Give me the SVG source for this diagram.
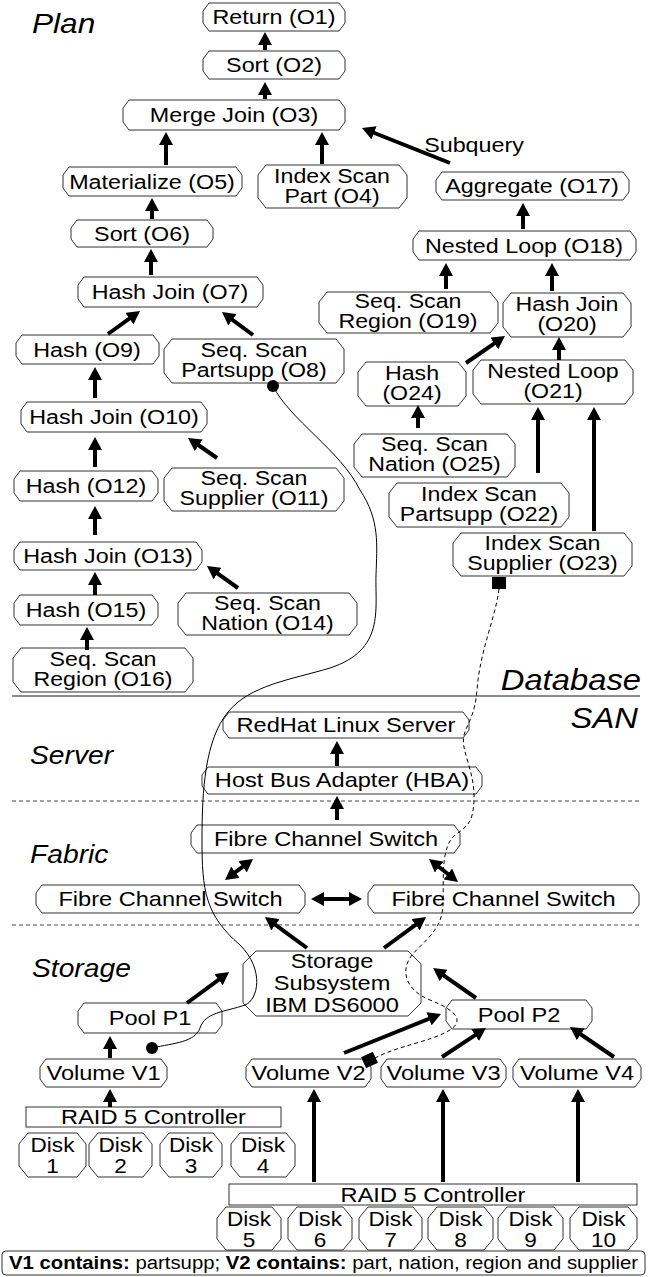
<svg xmlns="http://www.w3.org/2000/svg" width="656" height="1277" viewBox="0 0 656 1277">
<defs>
<style>
.nd{fill:#fff;stroke:#333;stroke-width:1}
.t{font-family:"Liberation Sans",Arial,sans-serif;font-size:21px;fill:#000;text-anchor:middle}
.t2{font-family:"Liberation Sans",Arial,sans-serif;font-size:20.5px;fill:#000;text-anchor:middle}
.s{font-family:"Liberation Sans",Arial,sans-serif;font-size:20px;fill:#000;text-anchor:middle}
.lg{font-family:"Liberation Sans",Arial,sans-serif;font-size:18px;fill:#000;text-anchor:middle}
.h{font-family:"Liberation Sans",Arial,sans-serif;font-style:italic;fill:#000}
.a{stroke:#000;stroke-width:4;fill:none;marker-end:url(#ah)}
.d{stroke:#000;stroke-width:4;fill:none;marker-end:url(#ah);marker-start:url(#ah)}
.sep{stroke:#666;stroke-width:1.5}
.dsep{stroke:#444;stroke-width:1;stroke-dasharray:4 3}
</style>
<marker id="ah" markerUnits="userSpaceOnUse" viewBox="0 0 13 14" markerWidth="13" markerHeight="14" refX="5" refY="7" orient="auto-start-reverse">
<path d="M0,0 L13,7 L0,14 Z" fill="#000"/>
</marker>
</defs>
<rect width="656" height="1277" fill="#fff"/>

<g id="labels">
<text class="h" style="font-size:28px" transform="matrix(1.13 0 0 1 32 0)" y="33">Plan</text>
<text class="h" style="font-size:29px" text-anchor="end" transform="matrix(1.13 0 0 1 641 0)" y="690">Database</text>
<text class="h" style="font-size:29px" text-anchor="end" transform="matrix(1.13 0 0 1 638 0)" y="728">SAN</text>
<text class="h" style="font-size:25px" transform="matrix(1.13 0 0 1 30 0)" y="764">Server</text>
<text class="h" style="font-size:25px" transform="matrix(1.13 0 0 1 30 0)" y="863">Fabric</text>
<text class="h" style="font-size:25px" transform="matrix(1.13 0 0 1 32 0)" y="977">Storage</text>
<text class="t" transform="matrix(1.11 0 0 1 474 0)" y="152">Subquery</text>
</g>

<g id="separators">
<line class="sep" x1="12" y1="696" x2="640" y2="696"/>
<line class="dsep" x1="12" y1="801" x2="640" y2="801"/>
<line class="dsep" x1="12" y1="925" x2="640" y2="925"/>
</g>

<g id="O1"><path class="nd" d="M209,3 H339 L345,11 V23 L339,31 H209 L203,23 V11 Z"/><text class="t" transform="matrix(1.11 0 0 1 274 0)" y="24.5">Return (O1)</text></g>
<g id="O2"><path class="nd" d="M209,51 H339 L345,59 V71 L339,79 H209 L203,71 V59 Z"/><text class="t" transform="matrix(1.11 0 0 1 274 0)" y="72.5">Sort (O2)</text></g>
<g id="O3"><path class="nd" d="M129,100 H339 L345,108 V122 L339,130 H129 L123,122 V108 Z"/><text class="t" transform="matrix(1.11 0 0 1 234 0)" y="122.5">Merge Join (O3)</text></g>
<g id="O4"><path class="nd" d="M266,165 H399 L407,175 V198 L399,208 H266 L258,198 V175 Z"/><text class="t2" transform="matrix(1.13 0 0 1 332 0)"><tspan x="0" y="183">Index Scan</tspan><tspan x="0" y="203">Part (O4)</tspan></text></g>
<g id="O5"><path class="nd" d="M69,167 H236 L242,175 V188 L236,196 H69 L63,188 V175 Z"/><text class="t" transform="matrix(1.11 0 0 1 152 0)" y="189">Materialize (O5)</text></g>
<g id="O6"><path class="nd" d="M77,220 H207 L213,228 V239 L207,247 H77 L71,239 V228 Z"/><text class="t" transform="matrix(1.11 0 0 1 142 0)" y="241">Sort (O6)</text></g>
<g id="O7"><path class="nd" d="M84,277 H257 L263,285 V299 L257,307 H84 L78,299 V285 Z"/><text class="t" transform="matrix(1.11 0 0 1 170 0)" y="299.5">Hash Join (O7)</text></g>
<g id="O8"><path class="nd" d="M172,339 H336 L344,349 V373 L336,383 H172 L164,373 V349 Z"/><text class="t2" transform="matrix(1.13 0 0 1 254 0)"><tspan x="0" y="357">Seq. Scan</tspan><tspan x="0" y="377">Partsupp (O8)</tspan></text></g>
<g id="O9"><path class="nd" d="M22,335 H153 L159,343 V356 L153,364 H22 L16,356 V343 Z"/><text class="t" transform="matrix(1.11 0 0 1 87 0)" y="357">Hash (O9)</text></g>
<g id="O10"><path class="nd" d="M27,402 H201 L207,410 V424 L201,432 H27 L21,424 V410 Z"/><text class="t" transform="matrix(1.11 0 0 1 114 0)" y="424.5">Hash Join (O10)</text></g>
<g id="O11"><path class="nd" d="M172,468 H336 L344,478 V501 L336,511 H172 L164,501 V478 Z"/><text class="t2" transform="matrix(1.13 0 0 1 254 0)"><tspan x="0" y="485.5">Seq. Scan</tspan><tspan x="0" y="505.5">Supplier (O11)</tspan></text></g>
<g id="O12"><path class="nd" d="M20,471 H152 L158,479 V493 L152,501 H20 L14,493 V479 Z"/><text class="t" transform="matrix(1.11 0 0 1 86 0)" y="493.5">Hash (O12)</text></g>
<g id="O13"><path class="nd" d="M20,542 H196 L202,550 V562 L196,570 H20 L14,562 V550 Z"/><text class="t" transform="matrix(1.11 0 0 1 108 0)" y="563.5">Hash Join (O13)</text></g>
<g id="O14"><path class="nd" d="M186,593 H349 L357,603 V625 L349,635 H186 L178,625 V603 Z"/><text class="t2" transform="matrix(1.13 0 0 1 267.5 0)"><tspan x="0" y="610">Seq. Scan</tspan><tspan x="0" y="630">Nation (O14)</tspan></text></g>
<g id="O15"><path class="nd" d="M20,595 H152 L158,603 V617 L152,625 H20 L14,617 V603 Z"/><text class="t" transform="matrix(1.11 0 0 1 86 0)" y="617.5">Hash (O15)</text></g>
<g id="O16"><path class="nd" d="M21,648 H185 L193,658 V682 L185,692 H21 L13,682 V658 Z"/><text class="t2" transform="matrix(1.13 0 0 1 103 0)"><tspan x="0" y="666">Seq. Scan</tspan><tspan x="0" y="686">Region (O16)</tspan></text></g>
<g id="O17"><path class="nd" d="M442,172 H623 L629,180 V192 L623,200 H442 L436,192 V180 Z"/><text class="t" transform="matrix(1.11 0 0 1 532 0)" y="193.5">Aggregate (O17)</text></g>
<g id="O18"><path class="nd" d="M419,231 H630 L636,239 V252 L630,260 H419 L413,252 V239 Z"/><text class="t" transform="matrix(1.11 0 0 1 524 0)" y="253">Nested Loop (O18)</text></g>
<g id="O19"><path class="nd" d="M327,292 H490 L498,302 V323 L490,333 H327 L319,323 V302 Z"/><text class="t2" transform="matrix(1.13 0 0 1 408 0)"><tspan x="0" y="308.5">Seq. Scan</tspan><tspan x="0" y="328.5">Region (O19)</tspan></text></g>
<g id="O20"><path class="nd" d="M511,293 H623 L631,303 V327 L623,337 H511 L503,327 V303 Z"/><text class="t2" transform="matrix(1.13 0 0 1 567 0)"><tspan x="0" y="311">Hash Join</tspan><tspan x="0" y="331">(O20)</tspan></text></g>
<g id="O21"><path class="nd" d="M481,360 H625 L633,370 V394 L625,404 H481 L473,394 V370 Z"/><text class="t2" transform="matrix(1.13 0 0 1 553 0)"><tspan x="0" y="378">Nested Loop</tspan><tspan x="0" y="398">(O21)</tspan></text></g>
<g id="O22"><path class="nd" d="M397,483 H561 L569,493 V517 L561,527 H397 L389,517 V493 Z"/><text class="t2" transform="matrix(1.13 0 0 1 479 0)"><tspan x="0" y="501">Index Scan</tspan><tspan x="0" y="521">Partsupp (O22)</tspan></text></g>
<g id="O23"><path class="nd" d="M461,533 H624 L632,543 V566 L624,576 H461 L453,566 V543 Z"/><text class="t2" transform="matrix(1.13 0 0 1 542.5 0)"><tspan x="0" y="550.5">Index Scan</tspan><tspan x="0" y="570.5">Supplier (O23)</tspan></text></g>
<g id="O24"><path class="nd" d="M366,362 H458 L466,372 V396 L458,406 H366 L358,396 V372 Z"/><text class="t2" transform="matrix(1.13 0 0 1 412 0)"><tspan x="0" y="380">Hash</tspan><tspan x="0" y="400">(O24)</tspan></text></g>
<g id="O25"><path class="nd" d="M362,434 H507 L515,444 V467 L507,477 H362 L354,467 V444 Z"/><text class="t2" transform="matrix(1.13 0 0 1 434.5 0)"><tspan x="0" y="451.5">Seq. Scan</tspan><tspan x="0" y="471.5">Nation (O25)</tspan></text></g>

<g id="server"><path class="nd" d="M229,712 H463 L469,720 V730 L463,738 H229 L223,730 V720 Z"/><text class="s" transform="matrix(1.18 0 0 1 346 0)" y="732">RedHat Linux Server</text></g>
<g id="hba"><path class="nd" d="M208,767 H476 L482,775 V786 L476,794 H208 L202,786 V775 Z"/><text class="s" transform="matrix(1.18 0 0 1 342 0)" y="787.5">Host Bus Adapter (HBA)</text></g>
<g id="fcs-top"><path class="nd" d="M197,825 H454 L460,833 V845 L454,853 H197 L191,845 V833 Z"/><text class="s" transform="matrix(1.18 0 0 1 326 0)" y="846">Fibre Channel Switch</text></g>
<g id="fcs-left"><path class="nd" d="M42,885 H299 L305,893 V905 L299,913 H42 L36,905 V893 Z"/><text class="s" transform="matrix(1.18 0 0 1 170.5 0)" y="906">Fibre Channel Switch</text></g>
<g id="fcs-right"><path class="nd" d="M374,885 H633 L639,893 V905 L633,913 H374 L368,905 V893 Z"/><text class="s" transform="matrix(1.18 0 0 1 503.5 0)" y="906">Fibre Channel Switch</text></g>
<g id="storage"><path class="nd" d="M256,951 H408 L421,964 V1003 L408,1016 H256 L243,1003 V964 Z"/><text class="s" transform="matrix(1.18 0 0 1 332 0)"><tspan x="0" y="968">Storage</tspan><tspan x="0" y="990">Subsystem</tspan><tspan x="0" y="1012">IBM DS6000</tspan></text></g>
<g id="pool-p1"><path class="nd" d="M84,1003 H216 L222,1011 V1025 L216,1033 H84 L78,1025 V1011 Z"/><text class="s" transform="matrix(1.18 0 0 1 150 0)" y="1025">Pool P1</text></g>
<g id="pool-p2"><path class="nd" d="M452,1000 H586 L592,1008 V1021 L586,1029 H452 L446,1021 V1008 Z"/><text class="s" transform="matrix(1.18 0 0 1 519 0)" y="1022">Pool P2</text></g>
<g id="vol-v1"><path class="nd" d="M46,1059 H161 L167,1067 V1079 L161,1087 H46 L40,1079 V1067 Z"/><text class="s" transform="matrix(1.18 0 0 1 103.5 0)" y="1080">Volume V1</text></g>
<g id="vol-v2"><path class="nd" d="M252,1059 H365 L371,1067 V1079 L365,1087 H252 L246,1079 V1067 Z"/><text class="s" transform="matrix(1.18 0 0 1 308.5 0)" y="1080">Volume V2</text></g>
<g id="vol-v3"><path class="nd" d="M387,1059 H500 L506,1067 V1079 L500,1087 H387 L381,1079 V1067 Z"/><text class="s" transform="matrix(1.18 0 0 1 443.5 0)" y="1080">Volume V3</text></g>
<g id="vol-v4"><path class="nd" d="M519,1059 H635 L641,1067 V1079 L635,1087 H519 L513,1079 V1067 Z"/><text class="s" transform="matrix(1.18 0 0 1 577 0)" y="1080">Volume V4</text></g>
<g id="raid-left"><rect class="nd" x="26" y="1107" width="255" height="20"/><text class="s" transform="matrix(1.18 0 0 1 153.5 0)" y="1124.5">RAID 5 Controller</text></g>
<g id="raid-right"><rect class="nd" x="229" y="1184" width="408" height="21"/><text class="s" transform="matrix(1.18 0 0 1 433 0)" y="1202">RAID 5 Controller</text></g>
<g id="disk1"><path class="nd" d="M28,1133 H77 L86,1144 V1166 L77,1177 H28 L19,1166 V1144 Z"/><text class="s" transform="matrix(1.13 0 0 1 52.5 0)"><tspan x="0" y="1152">Disk</tspan><tspan x="0" y="1173">1</tspan></text></g>
<g id="disk2"><path class="nd" d="M98,1133 H143 L152,1144 V1166 L143,1177 H98 L89,1166 V1144 Z"/><text class="s" transform="matrix(1.13 0 0 1 120.5 0)"><tspan x="0" y="1152">Disk</tspan><tspan x="0" y="1173">2</tspan></text></g>
<g id="disk3"><path class="nd" d="M169,1133 H213 L222,1144 V1166 L213,1177 H169 L160,1166 V1144 Z"/><text class="s" transform="matrix(1.13 0 0 1 191 0)"><tspan x="0" y="1152">Disk</tspan><tspan x="0" y="1173">3</tspan></text></g>
<g id="disk4"><path class="nd" d="M240,1133 H286 L295,1144 V1166 L286,1177 H240 L231,1166 V1144 Z"/><text class="s" transform="matrix(1.13 0 0 1 263 0)"><tspan x="0" y="1152">Disk</tspan><tspan x="0" y="1173">4</tspan></text></g>
<g id="disk5"><path class="nd" d="M226,1207 H272 L281,1218 V1239 L272,1250 H226 L217,1239 V1218 Z"/><text class="s" transform="matrix(1.13 0 0 1 249 0)"><tspan x="0" y="1226">Disk</tspan><tspan x="0" y="1247">5</tspan></text></g>
<g id="disk6"><path class="nd" d="M297,1207 H343 L352,1218 V1239 L343,1250 H297 L288,1239 V1218 Z"/><text class="s" transform="matrix(1.13 0 0 1 320 0)"><tspan x="0" y="1226">Disk</tspan><tspan x="0" y="1247">6</tspan></text></g>
<g id="disk7"><path class="nd" d="M368,1207 H413 L422,1218 V1239 L413,1250 H368 L359,1239 V1218 Z"/><text class="s" transform="matrix(1.13 0 0 1 390.5 0)"><tspan x="0" y="1226">Disk</tspan><tspan x="0" y="1247">7</tspan></text></g>
<g id="disk8"><path class="nd" d="M437,1207 H484 L493,1218 V1239 L484,1250 H437 L428,1239 V1218 Z"/><text class="s" transform="matrix(1.13 0 0 1 460.5 0)"><tspan x="0" y="1226">Disk</tspan><tspan x="0" y="1247">8</tspan></text></g>
<g id="disk9"><path class="nd" d="M507,1207 H554 L563,1218 V1239 L554,1250 H507 L498,1239 V1218 Z"/><text class="s" transform="matrix(1.13 0 0 1 530.5 0)"><tspan x="0" y="1226">Disk</tspan><tspan x="0" y="1247">9</tspan></text></g>
<g id="disk10"><path class="nd" d="M579,1207 H628 L637,1218 V1239 L628,1250 H579 L570,1239 V1218 Z"/><text class="s" transform="matrix(1.13 0 0 1 603.5 0)"><tspan x="0" y="1226">Disk</tspan><tspan x="0" y="1247">10</tspan></text></g>
<g id="legend"><rect class="nd" x="2" y="1251" width="643" height="24" rx="4"/><text class="lg" transform="matrix(1.13 0 0 1 323.5 0)" y="1269"><tspan font-weight="bold">V1 contains:</tspan> partsupp; <tspan font-weight="bold">V2 contains:</tspan> part, nation, region and supplier</text></g>

<g id="connectors">
<path class="a" d="M265,50 V40"/>
<path class="a" d="M265,99 V90"/>
<path class="a" d="M166,165 V140"/>
<path class="a" d="M322,164 V140"/>
<path class="a" d="M152,219 V206"/>
<path class="a" d="M151,275 V257"/>
<path class="a" d="M108,334 L133.5,315.7"/>
<path class="a" d="M253,335 L228.4,316.8"/>
<path class="a" d="M95,398 V375"/>
<path class="a" d="M217,458 L194.6,442.5"/>
<path class="a" d="M95,467 V445"/>
<path class="a" d="M95,535 V514"/>
<path class="a" d="M238,588 L213.5,570.6"/>
<path class="a" d="M95,595 V580"/>
<path class="a" d="M87,650 V635"/>
<path class="a" d="M450,163 L369.4,131"/>
<path class="a" d="M523,229 V211"/>
<path class="a" d="M446,289 V271"/>
<path class="a" d="M552,291 V271"/>
<path class="a" d="M466,363 L498.4,340.6"/>
<path class="a" d="M559,360 V345"/>
<path class="a" d="M418,428 V413"/>
<path class="a" d="M538,473 V415"/>
<path class="a" d="M594,531 V415"/>
<path class="a" d="M337,766 V749"/>
<path class="a" d="M337,820 V804"/>
<path class="d" d="M231.4,875.2 L246.6,863.8"/>
<path class="d" d="M435.3,864 L451.7,877"/>
<path class="d" d="M319,899 H354"/>
<path class="a" d="M307,948 L271.4,921.8"/>
<path class="a" d="M384,948 L419.6,921.8"/>
<path class="a" d="M187,1003 L222.6,976.8"/>
<path class="a" d="M476,998 L439.6,972.6"/>
<path class="a" d="M110,1058 V1044"/>
<path class="a" d="M344,1053 L433.6,1017"/>
<path class="a" d="M442,1057 L479.3,1032.4"/>
<path class="a" d="M614,1057 L576.6,1031.5"/>
<path class="a" d="M110,1107 V1097"/>
<path class="a" d="M314,1182 V1097"/>
<path class="a" d="M443,1182 V1097"/>
<path class="a" d="M578,1182 V1097"/>
<path d="M273,386 C290,420 340,450 360,490 C380,520 377,545 376,575 C375,610 385,650 330,668 C290,680 250,685 228,712 C205,740 202,790 202,840 C202,890 205,915 240,945 C265,970 258,1000 245,1005 C225,1012 205,1012 200,1028 C195,1042 175,1043 152,1048" fill="none" stroke="#000" stroke-width="1"/>
<circle cx="273" cy="386" r="6" fill="#000"/>
<circle cx="152" cy="1048" r="6" fill="#000"/>
<path d="M499,589 C495,620 480,650 477,690 C475,715 468,722 464,735 C460,750 475,770 474,800 C473,820 470,825 455,835 C440,848 444,880 443,905 C442,930 425,940 412,955 C400,970 405,990 430,1000 C455,1010 465,1020 450,1030 C430,1042 400,1045 375,1058" fill="none" stroke="#000" stroke-width="1" stroke-dasharray="4 3"/>
<rect x="492" y="577" width="14" height="12" fill="#000"/>
<rect x="363" y="1054" width="13" height="12" fill="#000" transform="rotate(-25 369.5 1060)"/>
</g>
</svg>
